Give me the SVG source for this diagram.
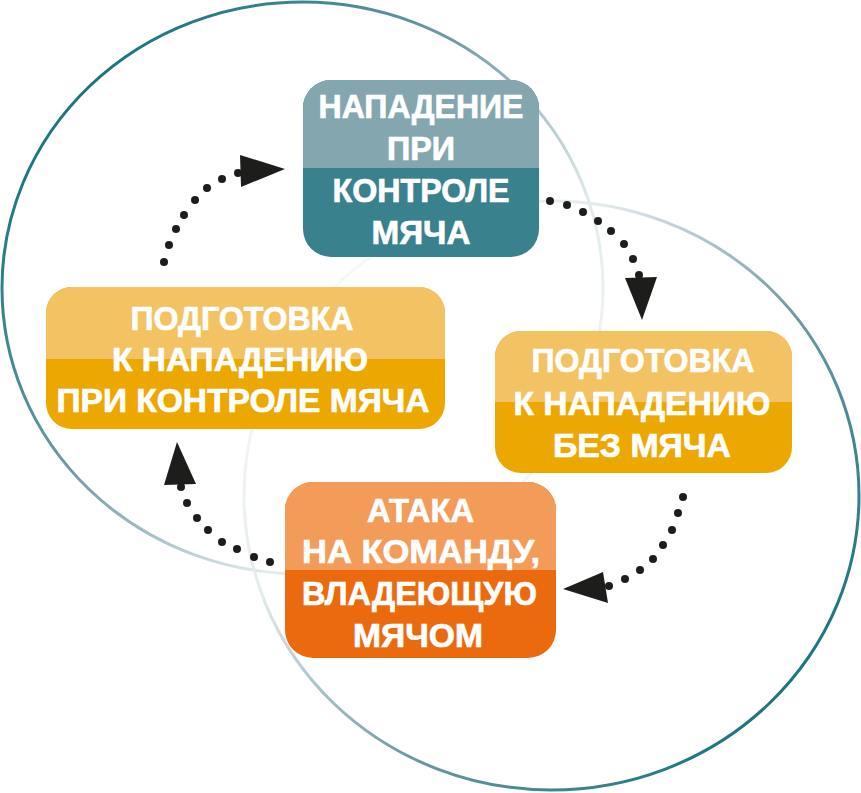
<svg xmlns="http://www.w3.org/2000/svg" width="861" height="793" viewBox="0 0 861 793">
  <defs>
    <linearGradient id="g1" gradientUnits="userSpaceOnUse" x1="60" y1="80" x2="560" y2="520">
      <stop offset="0" stop-color="#12717e"/>
      <stop offset="0.4" stop-color="#6f9aa4"/>
      <stop offset="0.72" stop-color="#e2eaec"/>
      <stop offset="1" stop-color="#fafbfc"/>
    </linearGradient>
    <linearGradient id="g2" gradientUnits="userSpaceOnUse" x1="800" y1="710" x2="300" y2="270">
      <stop offset="0" stop-color="#12717e"/>
      <stop offset="0.4" stop-color="#6f9aa4"/>
      <stop offset="0.72" stop-color="#e2eaec"/>
      <stop offset="1" stop-color="#fafbfc"/>
    </linearGradient>
  </defs>
  <style>
    .ring { fill: none; stroke-width: 3; }
    .lbl { font-family: "Liberation Sans", Arial, sans-serif; font-weight: bold; font-size: 32.5px; fill: #ffffff; stroke: #ffffff; stroke-width: 0.7; text-anchor: middle; }
    .dot { fill: #1d1d1b; }
    .head { fill: #1d1d1b; }
    .teal-l { fill: #84a6ae; } .teal-d { fill: #3a818e; }
    .yel-l { fill: #f3c262; } .yel-d { fill: #eca800; }
    .org-l { fill: #f39b59; } .org-d { fill: #eb6a0d; }
  </style>

  <g id="rings">
    <ellipse class="ring" cx="302.5" cy="288" rx="300.5" ry="286" stroke="url(#g1)"/>
    <ellipse class="ring" cx="551.5" cy="495.5" rx="307.5" ry="294.5" stroke="url(#g2)"/>
  </g>

  <g id="connectors">
    <g id="c1">
      <circle class="dot" cx="164" cy="262" r="4"/>
      <circle class="dot" cx="169" cy="245" r="4"/>
      <circle class="dot" cx="176" cy="229" r="4"/>
      <circle class="dot" cx="184" cy="215" r="4"/>
      <circle class="dot" cx="195" cy="200" r="4"/>
      <circle class="dot" cx="207" cy="188" r="4"/>
      <circle class="dot" cx="222" cy="179" r="4"/>
      <circle class="dot" cx="238" cy="173" r="4"/>
      <polygon class="head" points="240,155 285,169 241,187"/>
    </g>
    <g id="c2">
      <circle class="dot" cx="550" cy="201" r="4"/>
      <circle class="dot" cx="567" cy="205" r="4"/>
      <circle class="dot" cx="583" cy="212" r="4"/>
      <circle class="dot" cx="598" cy="221" r="4"/>
      <circle class="dot" cx="611" cy="231" r="4"/>
      <circle class="dot" cx="624" cy="244" r="4"/>
      <circle class="dot" cx="633" cy="259" r="4"/>
      <circle class="dot" cx="639" cy="275" r="4"/>
      <polygon class="head" points="625,278 657,277 642,320"/>
    </g>
    <g id="c3">
      <circle class="dot" cx="683" cy="497" r="4"/>
      <circle class="dot" cx="678" cy="513" r="4"/>
      <circle class="dot" cx="672" cy="530" r="4"/>
      <circle class="dot" cx="663" cy="545" r="4"/>
      <circle class="dot" cx="653" cy="559" r="4"/>
      <circle class="dot" cx="640" cy="570" r="4"/>
      <circle class="dot" cx="625" cy="579" r="4"/>
      <circle class="dot" cx="609" cy="586" r="4"/>
      <polygon class="head" points="603,572 563,589 608,603"/>
    </g>
    <g id="c4">
      <circle class="dot" cx="270" cy="562" r="4"/>
      <circle class="dot" cx="254" cy="557" r="4"/>
      <circle class="dot" cx="237" cy="549" r="4"/>
      <circle class="dot" cx="222" cy="542" r="4"/>
      <circle class="dot" cx="208" cy="530" r="4"/>
      <circle class="dot" cx="197" cy="518" r="4"/>
      <circle class="dot" cx="187" cy="503" r="4"/>
      <circle class="dot" cx="181" cy="487" r="4"/>
      <polygon class="head" points="164,485 177,442 196,484"/>
    </g>
  </g>

  <g id="node-top">
    <rect class="teal-d" x="303" y="80" width="236" height="177" rx="28"/>
    <path class="teal-l" d="M303,168 L303,108 A28,28 0 0 1 331,80 L511,80 A28,28 0 0 1 539,108 L539,168 Z"/>
    <text class="lbl" x="421" y="118" textLength="205" lengthAdjust="spacingAndGlyphs">НАПАДЕНИЕ</text>
    <text class="lbl" x="421" y="160" textLength="68" lengthAdjust="spacingAndGlyphs">ПРИ</text>
    <text class="lbl" x="421" y="202" textLength="177" lengthAdjust="spacingAndGlyphs">КОНТРОЛЕ</text>
    <text class="lbl" x="421" y="244" textLength="99" lengthAdjust="spacingAndGlyphs">МЯЧА</text>
  </g>

  <g id="node-left">
    <rect class="yel-d" x="46" y="287" width="399" height="142" rx="26"/>
    <path class="yel-l" d="M46,359 L46,313 A26,26 0 0 1 72,287 L419,287 A26,26 0 0 1 445,313 L445,359 Z"/>
    <text class="lbl" x="242" y="330" textLength="223" lengthAdjust="spacingAndGlyphs">ПОДГОТОВКА</text>
    <text class="lbl" x="240" y="371" textLength="256" lengthAdjust="spacingAndGlyphs">К НАПАДЕНИЮ</text>
    <text class="lbl" x="243" y="412" textLength="373" lengthAdjust="spacingAndGlyphs">ПРИ КОНТРОЛЕ МЯЧА</text>
  </g>

  <g id="node-right">
    <rect class="yel-d" x="495" y="331" width="297" height="142" rx="26"/>
    <path class="yel-l" d="M495,402 L495,357 A26,26 0 0 1 521,331 L766,331 A26,26 0 0 1 792,357 L792,402 Z"/>
    <text class="lbl" x="643" y="372" textLength="223" lengthAdjust="spacingAndGlyphs">ПОДГОТОВКА</text>
    <text class="lbl" x="642" y="415" textLength="257" lengthAdjust="spacingAndGlyphs">К НАПАДЕНИЮ</text>
    <text class="lbl" x="642" y="457" textLength="178" lengthAdjust="spacingAndGlyphs">БЕЗ МЯЧА</text>
  </g>

  <g id="node-bottom">
    <rect class="org-d" x="285" y="482" width="271" height="176" rx="28"/>
    <path class="org-l" d="M285,570 L285,510 A28,28 0 0 1 313,482 L528,482 A28,28 0 0 1 556,510 L556,570 Z"/>
    <text class="lbl" x="420.5" y="522" textLength="107" lengthAdjust="spacingAndGlyphs">АТАКА</text>
    <text class="lbl" x="421" y="563" textLength="238" lengthAdjust="spacingAndGlyphs">НА КОМАНДУ,</text>
    <text class="lbl" x="419.5" y="605" textLength="235" lengthAdjust="spacingAndGlyphs">ВЛАДЕЮЩУЮ</text>
    <text class="lbl" x="418" y="647" textLength="130" lengthAdjust="spacingAndGlyphs">МЯЧОМ</text>
  </g>
</svg>
